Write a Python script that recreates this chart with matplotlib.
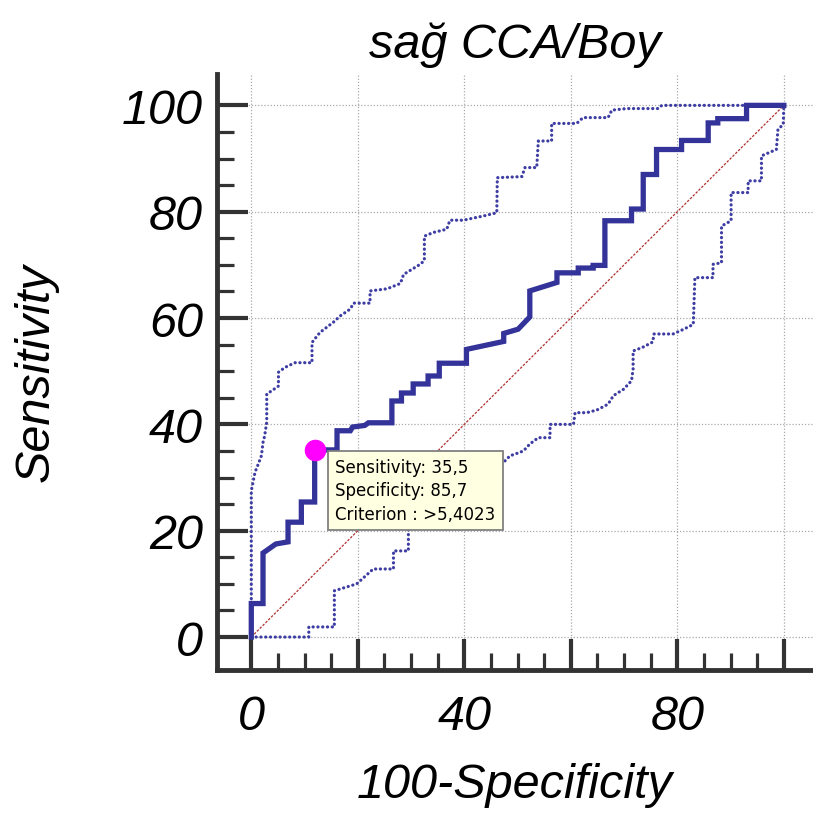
import matplotlib
matplotlib.use("Agg")
import matplotlib.pyplot as plt

# ---- data (x = 100-Specificity, y = Sensitivity) ----
roc_x = [0, 0, 2.2, 2.2, 4.6, 6.9, 6.9, 9.4, 9.4, 11.9, 11.9, 16.1, 16.1, 18.6, 19.0, 21.3,
         22.0, 26.4, 26.4, 28.2, 28.2, 30.4, 30.4, 33.2, 33.2, 35.3, 35.3, 40.4, 40.4, 47.4,
         47.4, 50.1, 52.3, 52.3, 57.4, 57.4, 61.4, 61.4, 64.2, 64.2, 66.4, 66.4, 71.4, 71.4,
         73.6, 73.6, 76.1, 76.1, 80.8, 80.8, 85.8, 85.8, 87.6, 87.6, 93.0, 93.0, 100]
roc_y = [0, 6.3, 6.3, 15.8, 17.5, 17.9, 21.6, 21.6, 25.4, 25.4, 35.2, 35.2, 38.8, 38.8, 39.5, 39.8,
         40.3, 40.3, 44.4, 44.4, 45.9, 45.9, 47.6, 47.6, 49.1, 49.1, 51.5, 51.5, 54.1, 55.6,
         57.1, 57.9, 60.2, 65.1, 66.7, 68.5, 68.5, 69.4, 69.4, 69.9, 69.9, 78.3, 78.3, 80.5,
         80.5, 87.0, 87.0, 91.7, 91.7, 93.4, 93.4, 96.7, 96.7, 97.5, 97.5, 100, 100]

upper_x = [0, 0, 0.7, 1.3, 1.9, 2.2, 2.5, 2.9, 2.9, 3.8, 5.1, 5.1, 6.3, 8.2, 11.4, 11.4, 12.9,
           15.4, 16.7, 18.6, 19.2, 22.3, 22.3, 25.5, 28.0, 28.6, 31.7, 32.5, 32.5, 34.2, 36.7,
           37.3, 39.8, 43.6, 46.1, 46.2, 50.8, 51.4, 53.6, 53.9, 56.4, 56.4, 61.1, 62.3, 67.0,
           67.7, 70.5, 76.4, 77.1, 100]
upper_y = [0, 27.5, 31.0, 32.5, 34.1, 36.6, 37.8, 40.4, 45.7, 46.3, 47.2, 49.8, 50.7, 51.6, 51.6,
           55.4, 57.3, 59.2, 60.4, 61.7, 62.8, 62.8, 65.1, 65.5, 66.5, 68.2, 70.1, 70.8, 75.4,
           76.1, 76.7, 78.4, 78.4, 79.2, 79.8, 86.4, 86.6, 88.3, 88.3, 93.3, 93.3, 96.6, 96.6,
           97.7, 97.7, 99.1, 99.4, 99.4, 100, 100]

lower_x = [0, 10.8, 10.8, 15.6, 15.6, 19.8, 22.9, 26.7, 26.7, 29.5, 29.5, 32.0, 35.5, 38.6,
           42.0, 45.5, 48.6, 49.5, 51.1, 52.3, 53.9, 56.1, 56.1, 60.5, 60.8, 63.0, 64.9, 67.0,
           68.0, 69.9, 71.4, 71.7, 71.7, 73.5, 75.4, 75.6, 79.2, 81.0, 83.0, 83.3, 86.7, 86.7,
           88.3, 88.3, 90.1, 90.1, 93.3, 93.3, 95.8, 95.8, 98.6, 98.9, 99.9, 100]
lower_y = [0, 0, 1.9, 1.9, 8.7, 10.0, 12.8, 12.8, 16.2, 16.2, 20.3, 22.0, 24.5, 27.3, 29.1,
           31.0, 34.1, 34.4, 35.0, 36.3, 37.5, 37.5, 40.0, 40.0, 42.2, 42.2, 42.7, 43.8, 45.4,
           46.6, 48.2, 50.4, 53.8, 54.5, 55.5, 57.0, 57.0, 57.8, 58.8, 67.6, 67.6, 70.1, 70.4,
           77.3, 78.3, 83.6, 83.6, 85.8, 85.8, 90.5, 91.7, 95.5, 96.4, 100]

diag_x = [0, 100]
diag_y = [0, 100]

point_x = [11.9]
point_y = [35.2]
tooltip_lines = ["Sensitivity: 35,5", "Specificity: 85,7", "Criterion : >5,4023"]

major_ticks = [0, 20, 40, 60, 80, 100]
minor_ticks = [5, 10, 15, 25, 30, 35, 45, 50, 55, 65, 70, 75, 85, 90, 95]
x_tick_labels = ["0", "", "40", "", "80", ""]
y_tick_labels = ["0", "20", "40", "60", "80", "100"]

title = "sağ CCA/Boy"
xlabel = "100-Specificity"
ylabel = "Sensitivity"

# ---- figure ----
W, H = 813, 820
fig = plt.figure(figsize=(W / 100, H / 100), dpi=100)
ax = fig.add_axes([217 / W, 149 / H, 1 - 217 / W, (745 - 149) / H])
ax.set_xlim(-6.44, 105.48)
ax.set_ylim(-6.2, 105.9)

font = dict(family="Liberation Sans", style="italic", size=35)
dark = "#333333"
blue = "#333399"

ax.grid(True, which="major", color="#AAAAAA", linestyle=(0, (1, 1.5)), linewidth=0.9)
ax.set_axisbelow(True)

ax.plot(diag_x, diag_y, color="#B03030", linewidth=0.9, linestyle=(0, (2, 1.2)), zorder=2)
dot_style = dict(color="#3D3DA3", linewidth=2.3, linestyle=(0, (0.05, 1.45)),
                 dash_capstyle="round", zorder=3)
ax.plot(upper_x, upper_y, **dot_style)
ax.plot(lower_x, lower_y, **dot_style)
ax.plot(roc_x, roc_y, color=blue, linewidth=3.8, solid_joinstyle="miter", zorder=4)
ax.plot(point_x, point_y, "o", color="#FF00FF", markersize=14.5, zorder=6)

ax.annotate("\n".join(tooltip_lines), xy=(point_x[0], point_y[0]),
            xytext=(15, -5.5), textcoords="offset points", ha="left", va="top",
            family="DejaVu Sans", fontsize=12.0, linespacing=1.4, color="black",
            bbox=dict(boxstyle="square,pad=0.42", fc="#FFFFE1", ec="#808080", lw=1.3),
            zorder=7)

for s in ["top", "right"]:
    ax.spines[s].set_visible(False)
for s in ["left", "bottom"]:
    ax.spines[s].set_linewidth(3.5)
    ax.spines[s].set_color(dark)

ax.set_xticks(major_ticks)
ax.set_xticklabels(x_tick_labels, fontdict=font)
ax.set_yticks(major_ticks)
ax.set_yticklabels(y_tick_labels, fontdict=font)
ax.set_xticks(minor_ticks, minor=True)
ax.set_yticks(minor_ticks, minor=True)
ax.tick_params(which="major", direction="in", length=22.5, width=3.0, color=dark)
ax.tick_params(which="minor", direction="in", length=12, width=2.3, color=dark)
ax.tick_params(axis="y", which="major", pad=10)
ax.tick_params(axis="x", which="major", pad=17)

ax.set_title(title, fontdict=font, pad=12)
ax.set_xlabel(xlabel, fontdict=font)
ax.set_ylabel(ylabel, fontdict=font)
ax.xaxis.set_label_coords(0.5, -0.155)
ax.yaxis.set_label_coords(-0.265, 0.5)

fig.savefig("out.png", dpi=100)
